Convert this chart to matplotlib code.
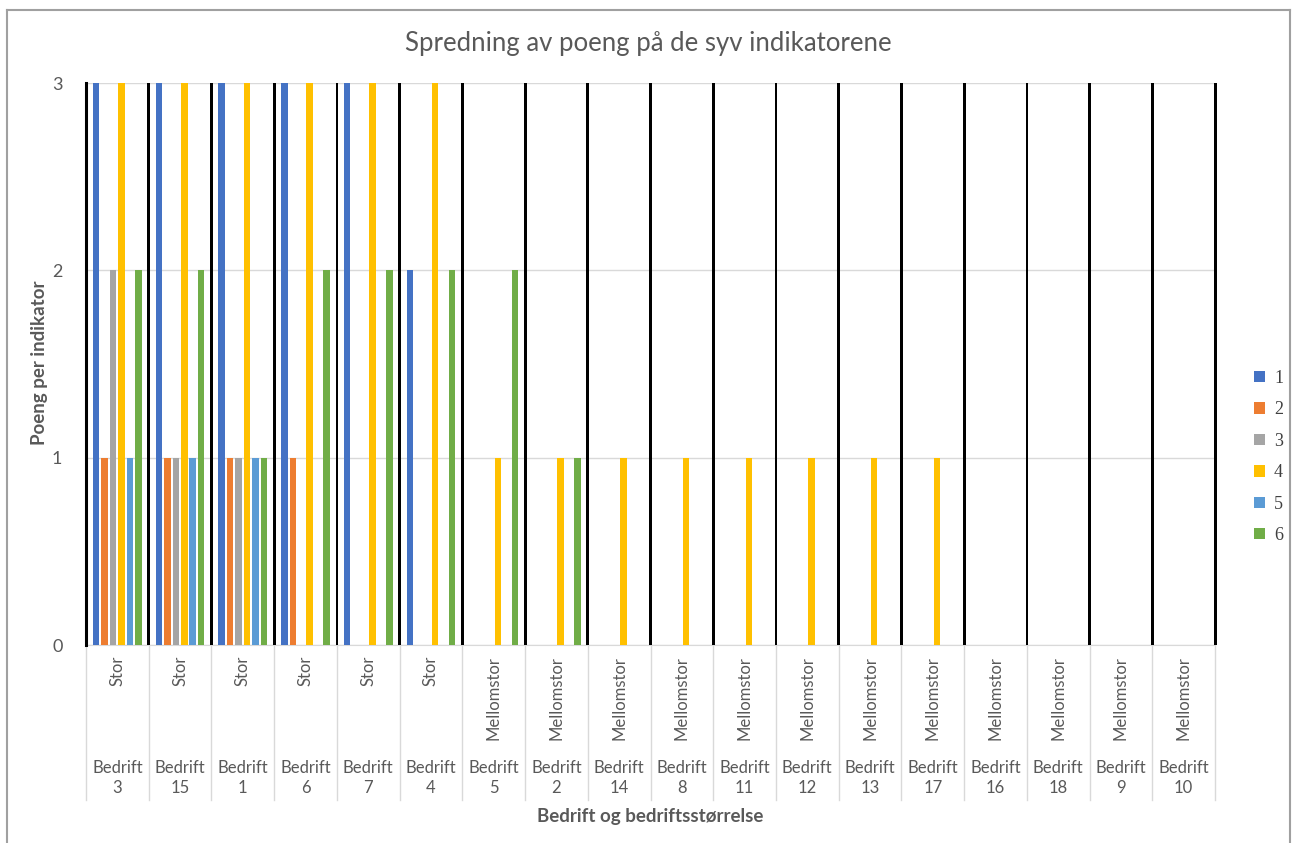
import numpy as np
import matplotlib
matplotlib.use("Agg")
import matplotlib.pyplot as plt
from matplotlib.lines import Line2D

# ---------------------------------------
# Data
# ---------------------------------------

companies = ["3", "15", "1", "6", "7", "4", "5", "2", "14",
             "8", "11", "12", "13", "17", "16", "18", "9", "10"]
sizes = ["Stor"] * 6 + ["Mellomstor"] * 12

ind1 = [3, 3, 3, 3, 3, 2, 0, 0, 0, 0, 0, 0, 0, 0, 0, 0, 0, 0]
ind2 = [1, 1, 1, 1, 0, 0, 0, 0, 0, 0, 0, 0, 0, 0, 0, 0, 0, 0]
ind3 = [2, 1, 1, 0, 0, 0, 0, 0, 0, 0, 0, 0, 0, 0, 0, 0, 0, 0]
ind4 = [3, 3, 3, 3, 3, 3, 1, 1, 1, 1, 1, 1, 1, 1, 0, 0, 0, 0]
ind5 = [1, 1, 1, 0, 0, 0, 0, 0, 0, 0, 0, 0, 0, 0, 0, 0, 0, 0]
ind6 = [2, 2, 1, 2, 2, 2, 2, 1, 0, 0, 0, 0, 0, 0, 0, 0, 0, 0]
ind7 = [3] * 18

series = [ind1, ind2, ind3, ind4, ind5, ind6, ind7]
labels = ["1", "2", "3", "4", "5", "6", "7"]
colors = ["#4472C4", "#ED7D31", "#A5A5A5", "#FFC000", "#5B9BD5", "#70AD47", "#000000"]

# ---------------------------------------
# Figure
# ---------------------------------------

plt.rcParams["font.family"] = ["Lato", "DejaVu Sans"]
text_col = "#595959"

W, H = 1296, 843
fig = plt.figure(figsize=(W / 100, H / 100), dpi=100)
ax = fig.add_axes([86 / W, 1 - 645 / H, (1215 - 86) / W, (645 - 83) / H])

x = np.arange(len(companies))
pitch = 0.135
start = -0.338
width = 0.104

bars = []
for i, (vals, col) in enumerate(zip(series, colors)):
    w = width if i < 6 else 0.045
    off = start + i * pitch + (0.03 if i == 6 else 0)
    b = ax.bar(x + off, vals, width=w, color=col, zorder=3, clip_on=False)
    bars.append(b)

ax.set_xlim(-0.5, len(companies) - 0.5)
ax.set_ylim(0, 3)
ax.set_yticks([0, 1, 2, 3])
ax.set_xticks([])
ax.tick_params(axis="y", length=0, labelsize=13, labelcolor=text_col, pad=17)
ax.yaxis.grid(True, color="#d9d9d9", linewidth=1, zorder=0)

for s in ["top", "right"]:
    ax.spines[s].set_visible(False)
ax.spines["bottom"].set_color("#d9d9d9")
ax.spines["left"].set_color("black")
ax.spines["left"].set_linewidth(2.2)
ax.spines["left"].set_zorder(4)

# category labels: size (rotated) and company name
trans = ax.get_xaxis_transform()
for i in range(len(companies) + 1):
    ax.plot([i - 0.5, i - 0.5], [0, -0.276], transform=trans,
            color="#d9d9d9", linewidth=1, clip_on=False)
for i, (comp, size) in enumerate(zip(companies, sizes)):
    ax.text(i, -0.019, size, transform=trans, rotation=90, ha="center",
            va="top", fontsize=12, color=text_col)
    ax.text(i, -0.237, f"Bedrift\n{comp}", transform=trans, ha="center",
            va="center", fontsize=12, color=text_col, linespacing=1.3)

ax.text(0.5, -0.305, "Bedrift og bedriftsstørrelse", transform=ax.transAxes,
        ha="center", va="center", fontsize=13.5, fontweight="bold", color=text_col)
fig.text(40 / W, 1 - 363 / H, "Poeng per indikator", rotation=90, ha="center",
         va="center", fontsize=13.5, fontweight="bold", color=text_col)

fig.text(648 / W, 1 - 43 / H, "Spredning av poeng på de syv indikatorene",
         ha="center", va="center", fontsize=18.5, color=text_col)

leg = fig.legend(handles=[b[0] for b in bars[:6]], labels=labels[:6],
                 loc="center left", bbox_to_anchor=(1238 / W, 1 - 457 / H),
                 frameon=False, handlelength=0.6, handleheight=0.6,
                 handletextpad=0.5, labelspacing=0.8,
                 prop={"family": "Liberation Serif", "size": 13})
for t in leg.get_texts():
    t.set_color("#404040")

# chart frame
for xs, ys in [([7, 7], [H, 10]), ([7, 1290], [10, 10]), ([1290, 1290], [10, H])]:
    fig.add_artist(Line2D([v / W for v in xs], [1 - v / H for v in ys],
                          color="#a0a0a0", linewidth=1.5))

plt.savefig("out.png", dpi=100)
plt.close()
